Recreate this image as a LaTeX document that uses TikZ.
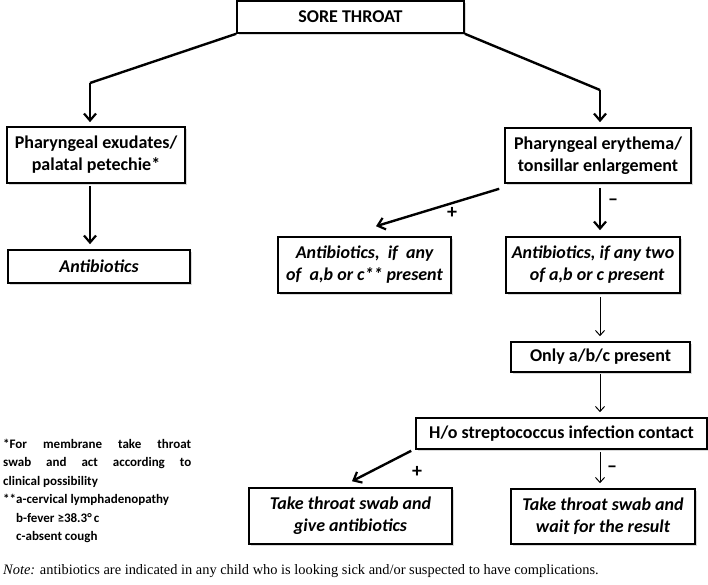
\documentclass[tikz,border=0pt]{standalone}
\usepackage{fontspec}
\setmainfont{Carlito}
\newfontfamily\notefont{Liberation Serif}
\usetikzlibrary{arrows.meta,shadows,calc}
\begin{document}
\begin{tikzpicture}[x=1pt,y=-1pt,
  box/.style={draw=black,line width=1.6pt,fill=white,inner sep=0pt,align=center,
    font=\fontsize{18}{22}\selectfont\bfseries,
    drop shadow={opacity=0.3,shadow xshift=2pt,shadow yshift=-2pt}},
  ibox/.style={box,font=\fontsize{18}{22}\selectfont\bfseries\itshape},
  thick arrow/.style={line width=2.4pt,-{Straight Barb[length=7pt,width=12pt,line width=2.2pt]}},
  thin arrow/.style={line width=1pt,-{Straight Barb[length=5pt,width=9pt,line width=1pt]}},
  thick line/.style={line width=2.4pt},
  sign/.style={font=\fontsize{20}{20}\selectfont\bfseries,inner sep=0pt},
  foot/.style={font=\fontsize{13}{18.4}\selectfont\bfseries,inner sep=0pt,align=left,anchor=north west}
]
\useasboundingbox (0,0) rectangle (708,585);
% boxes
\node[box,minimum width=227pt,minimum height=32pt] (sore) at (350.5,17) {SORE THROAT};
\node[box,minimum width=178pt,minimum height=56pt] (exu) at (96,155) {Pharyngeal exudates/\\palatal petechie*};
\node[ibox,minimum width=182pt,minimum height=33pt] (abx) at (99,266.5) {Antibiotics};
\node[box,minimum width=186pt,minimum height=55pt] (ery) at (598,155.5) {Pharyngeal erythema/\\tonsillar enlargement};
\node[ibox,minimum width=173pt,minimum height=56pt] (anyab) at (364.5,265) {Antibiotics,\ \ if\ \ any\\of\ \ a,b or c** present};
\node[ibox,minimum width=174pt,minimum height=56pt] (two) at (593,265) {Antibiotics, if any two\\\ \ of a,b or c present};
\node[box,minimum width=179pt,minimum height=30pt] (only) at (600.5,357) {Only a/b/c present};
\node[box,minimum width=291pt,minimum height=31pt] (ho) at (561.5,433.5) {H/o streptococcus infection contact};
\node[ibox,minimum width=203pt,minimum height=56pt] (give) at (350.5,516) {Take throat swab and\\give antibiotics};
\node[ibox,minimum width=184pt,minimum height=55pt] (wait) at (603,516.5) {Take throat swab and\\wait for the result};
% connectors
\coordinate (lc) at (90,83);
\coordinate (rc) at (600,90);
\draw[thick line] (sore.south west) -- (lc);
\draw[thick arrow,shorten >=4pt] (lc) -- (lc |- exu.north);
\draw[thick line] (sore.south east) -- (rc);
\draw[thick arrow,shorten >=5pt] (rc) -- (rc |- ery.north);
\coordinate (lx) at (90,186);
\draw[thick arrow,shorten >=5pt] (lx) -- (lx |- abx.north);
\coordinate (e1) at ($(ery.south west)+(-5,5)$);
\coordinate (e2) at ($(anyab.north)+(11.5,-10)$);
\draw[thick arrow] (e1) -- (e2);
\node[sign] (p1) at (452,213) {+};
\coordinate (e3) at (600,188);
\draw[thick arrow,shorten >=6pt] (e3) -- (e3 |- two.north);
\node[sign] (m1) at (613,202) {\textendash};
\coordinate (t1) at (600,297);
\draw[thin arrow,shorten >=5pt] (t1) -- (t1 |- only.north);
\draw[thin arrow,shorten <=1pt,shorten >=5pt] (t1 |- only.south) -- (t1 |- ho.north);
\draw[thin arrow,shorten <=2pt,shorten >=5pt] (t1 |- ho.south) -- (t1 |- wait.north);
\node[sign] (m2) at (612,469) {\textendash};
\coordinate (h1) at ($(ho.south west)+(-4,1)$);
\coordinate (h2) at ($(give.north)+(1.5,-6)$);
\draw[thick arrow] (h1) -- (h2);
\node[sign] (p2) at (417,472) {+};
% footnote
\node[foot] (fn) at (3,439) {%
\hbox to 188pt{*For\hfill membrane\hfill take\hfill throat}\\
\hbox to 188pt{swab\hfill and\hfill act\hfill according\hfill to}\\
clinical possibility\\
**a-cervical lymphadenopathy\\
\hspace*{13pt}b-fever ≥38.3°\,c\\
\hspace*{13pt}c-absent cough};
\node[inner sep=0pt,anchor=west,font=\notefont\fontsize{14.4}{16}\selectfont] (note) at (3,571)
  {\textit{Note:} antibiotics are indicated in any child who is looking sick and/or suspected to have complications.};
\end{tikzpicture}
\end{document}
